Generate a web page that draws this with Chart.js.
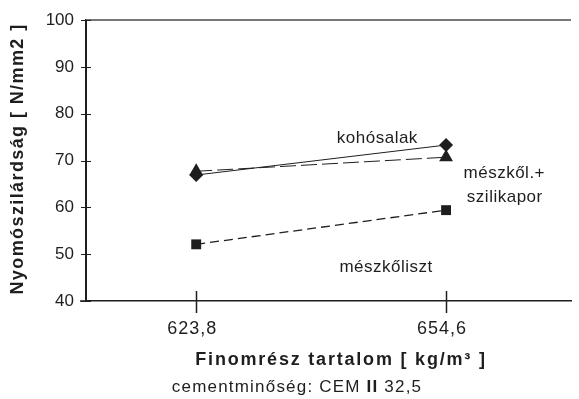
<!DOCTYPE html>
<html lang="hu">
<head>
  <meta charset="UTF-8" />
  <title>Nyomószilárdság</title>
  <style>
    body {
      margin: 0;
      background-color: #ffffff;
    }
    .wrap {
      width: 579px;
      height: 399px;
    }
  </style>
</head>
<body>
  <div class="wrap">
    <canvas id="strengthChart" width="579" height="399"></canvas>
  </div>

  <script src="https://cdn.jsdelivr.net/npm/chart.js"></script>
  <script>
    // finomrész tartalom kategóriák
    const finesLabels = ["623,8", "654,6"];

    // nyomószilárdság [N/mm2]
    const kohosalak = [66.9, 73.3];
    const meszkolSzilikapor = [67.7, 70.7];
    const meszkoliszt = [52.1, 59.4];

    const yTicks = [40, 50, 60, 70, 80, 90, 100];

    // feliratok a vonalak mellett (adat koordinátákban)
    const seriesNotes = [
      { text: "kohósalak", x: 0.725, y: 74.8 },
      { text: "mészkől.+", x: 1.233, y: 67.3 },
      { text: "szilikapor", x: 1.235, y: 62.2 },
      { text: "mészkőliszt", x: 0.76, y: 47.2 }
    ];

    const toPoints = vals => vals.map((v, i) => ({ x: i, y: v }));
    const ink = "#1e1e1e";
    const FONT = "'Liberation Sans', Arial, sans-serif";

    // több részből álló sor középre igazítva (normál + félkövér darabok)
    function drawRuns(ctx, runs, cx, cy) {
      let total = 0;
      runs.forEach(r => { ctx.font = r.font; total += ctx.measureText(r.text).width; });
      let px = cx - total / 2;
      ctx.textAlign = "left";
      runs.forEach(r => {
        ctx.font = r.font;
        ctx.fillText(r.text, px, cy);
        px += ctx.measureText(r.text).width;
      });
      ctx.textAlign = "center";
    }

    // tengely jelölők, felső keret, szövegek
    const decorations = {
      id: "decorations",
      afterDraw(chart) {
        const { ctx, chartArea: a, scales: { x, y } } = chart;
        ctx.save();

        // felső szürke vonal
        ctx.strokeStyle = "#777";
        ctx.lineWidth = 2;
        ctx.beginPath();
        ctx.moveTo(a.left, y.getPixelForValue(100));
        ctx.lineTo(a.right, y.getPixelForValue(100));
        ctx.stroke();

        // y tengely jelölők (átmenők)
        ctx.strokeStyle = ink;
        ctx.lineWidth = 1;
        yTicks.forEach(v => {
          const py = Math.round(y.getPixelForValue(v)) + 0.5;
          ctx.beginPath();
          ctx.moveTo(a.left - 5, py);
          ctx.lineTo(a.left + 5, py);
          ctx.stroke();
        });

        // x tengely jelölők
        ctx.lineWidth = 1.5;
        finesLabels.forEach((_, i) => {
          const px = Math.round(x.getPixelForValue(i)) + 0.5;
          ctx.beginPath();
          ctx.moveTo(px, a.bottom - 10);
          ctx.lineTo(px, a.bottom + 12);
          ctx.stroke();
        });

        // x tengely vonal kicsit balra kinyúlik
        ctx.beginPath();
        ctx.moveTo(a.left - 6, a.bottom);
        ctx.lineTo(a.left, a.bottom);
        ctx.stroke();

        ctx.fillStyle = ink;
        ctx.textAlign = "center";
        ctx.textBaseline = "middle";

        // x tengely feliratok
        ctx.letterSpacing = "1px";
        ctx.font = "18px " + FONT;
        finesLabels.forEach((t, i) => {
          ctx.fillText(t, x.getPixelForValue(i) - 4, a.bottom + 28);
        });

        // vonal feliratok
        ctx.letterSpacing = "0.5px";
        ctx.font = "17px " + FONT;
        seriesNotes.forEach(n => {
          ctx.fillText(n.text, x.getPixelForValue(n.x), y.getPixelForValue(n.y));
        });

        // x tengely cím
        ctx.letterSpacing = "1.8px";
        ctx.font = "bold 18px " + FONT;
        ctx.fillText("Finomrész tartalom [ kg/m³ ]", 341, 360);

        // cement minőség
        ctx.letterSpacing = "1.2px";
        drawRuns(ctx, [
          { text: "cementminőség: CEM ", font: "17px " + FONT },
          { text: "II", font: "bold 17px " + FONT },
          { text: " 32,5", font: "17px " + FONT }
        ], 297, 387);

        // y tengely cím
        ctx.letterSpacing = "1.4px";
        ctx.translate(18, 159);
        ctx.rotate(-Math.PI / 2);
        ctx.font = "bold 18px " + FONT;
        ctx.fillText("Nyomószilárdság [ N/mm2 ]", 0, 0);

        ctx.restore();
      }
    };

    new Chart(document.getElementById("strengthChart"), {
      type: "line",
      data: {
        datasets: [
          {
            label: "mészkől.+ szilikapor",
            data: toPoints(meszkolSzilikapor),
            borderColor: ink,
            borderWidth: 1,
            borderDash: [16, 5],
            pointStyle: "triangle",
            pointRadius: 8,
            pointBackgroundColor: ink,
            pointBorderColor: ink,
            pointBorderWidth: 0
          },
          {
            label: "kohósalak",
            data: toPoints(kohosalak),
            borderColor: ink,
            borderWidth: 1,
            pointStyle: "rectRot",
            pointRadius: 7,
            pointBackgroundColor: ink,
            pointBorderColor: ink,
            pointBorderWidth: 0
          },
          {
            label: "mészkőliszt",
            data: toPoints(meszkoliszt),
            borderColor: ink,
            borderWidth: 1.3,
            borderDash: [9, 5],
            pointStyle: "rect",
            pointRadius: 7,
            pointBackgroundColor: ink,
            pointBorderColor: ink,
            pointBorderWidth: 0
          }
        ]
      },
      options: {
        responsive: false,
        animation: false,
        layout: { padding: { top: 20, right: 0, left: 0, bottom: 0 } },
        plugins: {
          legend: { display: false },
          tooltip: { enabled: false }
        },
        scales: {
          x: {
            type: "linear",
            min: -0.441,
            max: 1.5,
            afterBuildTicks: s => { s.ticks = finesLabels.map((_, i) => ({ value: i })); },
            afterFit: s => { s.height = 98; s.paddingLeft = 0; s.paddingRight = 0; },
            ticks: { display: false },
            grid: { display: false, drawTicks: false },
            border: { color: ink, width: 1.5 }
          },
          y: {
            min: 40,
            max: 100,
            afterBuildTicks: s => { s.ticks = yTicks.map(v => ({ value: v })); },
            afterFit: s => { s.width = 86; s.paddingTop = 0; s.paddingBottom = 0; },
            ticks: {
              color: ink,
              font: { family: FONT, size: 17 },
              padding: 12
            },
            grid: { display: false, drawTicks: false },
            border: { color: ink, width: 2 }
          }
        }
      },
      plugins: [decorations]
    });
  </script>
</body>
</html>
